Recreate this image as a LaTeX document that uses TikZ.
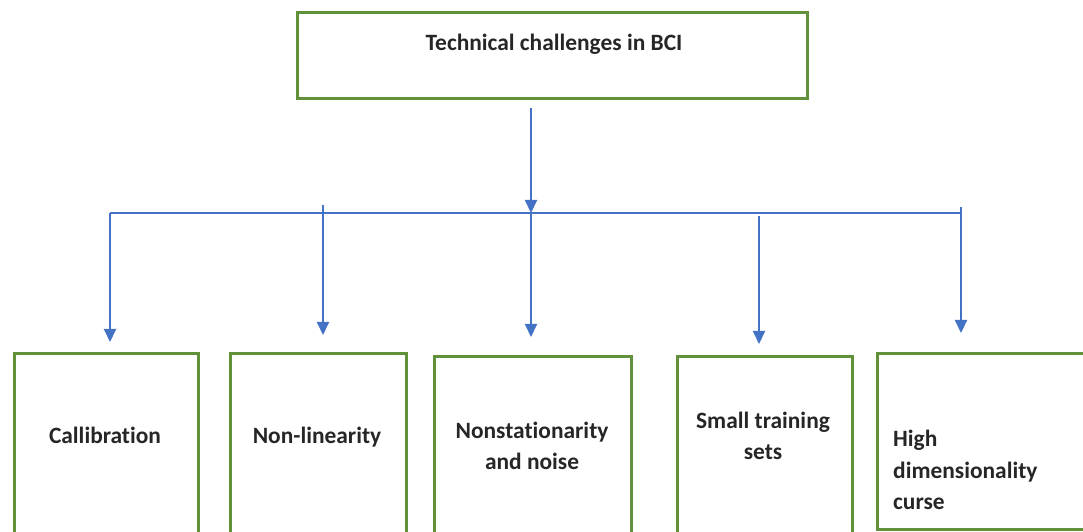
\documentclass[tikz,border=0pt]{standalone}
\usepackage{fontspec}
\setmainfont{Carlito}[Ligatures=NoCommon]
\usetikzlibrary{arrows.meta}
\definecolor{boxgreen}{RGB}{98,145,60}
\definecolor{arrowblue}{RGB}{68,114,196}
\begin{document}
\begin{tikzpicture}[x=1bp,y=-1bp,
 box/.style={draw=boxgreen,line width=3bp,inner sep=0pt,anchor=north west},
 lbl/.style={font=\fontsize{23.5}{31.5}\selectfont\bfseries,text=black!85,align=center,inner sep=0pt},
 conn/.style={draw=arrowblue,line width=2bp},
 arr/.style={conn,-{Triangle[length=13bp,width=12bp]}}]
\useasboundingbox (0,0) rectangle (1083,532);
\clip (0,0) rectangle (1083,532);
% boxes
\node[box,minimum width=510bp,minimum height=86bp] (top) at (296,11) {};
\node[box,minimum width=184bp,minimum height=200bp] (c1) at (13,352) {};
\node[box,minimum width=176bp,minimum height=200bp] (c2) at (229,352) {};
\node[box,minimum width=197bp,minimum height=200bp] (c3) at (433,355) {};
\node[box,minimum width=175bp,minimum height=200bp] (c4) at (676,355) {};
\node[box,minimum width=230bp,minimum height=176bp] (c5) at (876,352) {};
% labels
\node[lbl] (t0) at (554,44) {Technical challenges in BCI};
\node[lbl] (t1) at (105,435) {Callibration};
\node[lbl] (t2) at (317,437) {Non-linearity};
\node[lbl] (t3) at (532,446) {Nonstationarity\\and noise};
\node[lbl] (t4) at (763,436) {Small training\\sets};
\node[lbl,align=left,anchor=west] (t5) at (893,470) {High\\dimensionality\\curse};
% bus coordinates
\coordinate (b1) at (110,213);
\coordinate (b3) at (531,213);
\coordinate (b5) at (961,213);
\coordinate (s2) at (323,205);
\coordinate (s4) at (759,216);
\coordinate (s5) at (961,207);
% connectors
\draw[arr] ([yshift=-8bp]top.south -| b3) -- (b3);
\draw[conn] (b1) -- (b5);
\draw[arr] (b1) -- ([yshift=10bp]c1.north -| b1);
\draw[arr] (s2) -- ([yshift=17bp]c2.north -| s2);
\draw[arr] (b3) -- ([yshift=18bp]c3.north -| b3);
\draw[arr] (s4) -- ([yshift=11bp]c4.north -| s4);
\draw[arr] (s5) -- ([yshift=19bp]c5.north -| s5);
\end{tikzpicture}
\end{document}
